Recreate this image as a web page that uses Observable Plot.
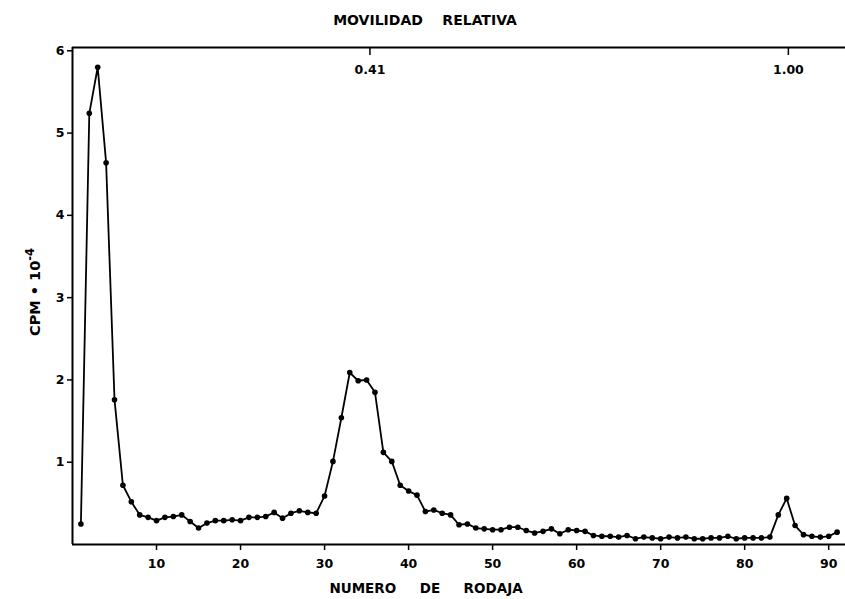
<!DOCTYPE html>
<html>
<head>
<meta charset="utf-8">
<script src="https://cdn.jsdelivr.net/npm/d3@7"></script>
<script src="https://cdn.jsdelivr.net/npm/@observablehq/plot@0.6"></script>
<style>
  html, body { margin: 0; padding: 0; background: #fff; }
  #chart svg { display: block; }
</style>
</head>
<body>
<div id="chart"></div>
<script>
// Slice number (NUMERO DE RODAJA)
const slices = [1,2,3,4,5,6,7,8,9,10,11,12,13,14,15,16,17,18,19,20,
  21,22,23,24,25,26,27,28,29,30,31,32,33,34,35,36,37,38,39,40,
  41,42,43,44,45,46,47,48,49,50,51,52,53,54,55,56,57,58,59,60,
  61,62,63,64,65,66,67,68,69,70,71,72,73,74,75,76,77,78,79,80,
  81,82,83,84,85,86,87,88,89,90,91];
// CPM · 10^-4
const cpm = [0.25,5.24,5.80,4.64,1.76,0.72,0.52,0.36,0.33,0.29,
  0.33,0.34,0.36,0.28,0.20,0.26,0.29,0.29,0.30,0.29,
  0.33,0.33,0.34,0.39,0.32,0.38,0.41,0.39,0.38,0.59,
  1.01,1.54,2.09,1.99,2.00,1.85,1.12,1.01,0.72,0.65,
  0.60,0.40,0.42,0.38,0.36,0.24,0.25,0.20,0.19,0.18,
  0.18,0.21,0.21,0.17,0.14,0.16,0.19,0.13,0.18,0.17,
  0.16,0.11,0.10,0.10,0.09,0.11,0.07,0.09,0.08,0.07,
  0.09,0.08,0.09,0.07,0.07,0.08,0.08,0.10,0.07,0.08,
  0.08,0.08,0.09,0.36,0.56,0.23,0.12,0.10,0.09,0.10,0.15];
// Bottom axis ticks
const xTicks = [10,20,30,40,50,60,70,80,90];
// Left axis ticks
const yTicks = [1,2,3,4,5,6];
// Top axis: relative mobility labels and the slice where each sits
const mobilityLabels = ["0.41","1.00"];
const mobilitySlices = [35.4,85.2];

const titleText = "MOVILIDAD\u00a0\u00a0\u00a0\u00a0RELATIVA";
const xLabelText = "NUMERO\u00a0\u00a0\u00a0\u00a0\u00a0DE\u00a0\u00a0\u00a0\u00a0\u00a0RODAJA";
const yLabelBase = "CPM \u2022 10";
const yLabelExp = "-4";

const data = slices.map((s, i) => ({slice: s, cpm: cpm[i]}));
const topTicks = mobilitySlices.map((s, i) => ({slice: s, label: mobilityLabels[i]}));
const xMax = 92, yMax = 6.04;

const chart = Plot.plot({
  width: 845,
  height: 599,
  marginLeft: 72,
  marginRight: 0,
  marginTop: 47,
  marginBottom: 55,
  style: {fontFamily: "DejaVu Sans", fontWeight: "bold", fontSize: "12px", color: "#000", background: "#fff"},
  x: {domain: [0, xMax]},
  y: {domain: [0, yMax]},
  marks: [
    Plot.axisX({ticks: xTicks, tickSize: 6, tickPadding: 9, tickFormat: "d", label: null, fontSize: 12.5, strokeWidth: 1.5}),
    Plot.axisY({ticks: yTicks, tickSize: 5, tickPadding: 3, tickFormat: "d", label: null, fontSize: 12.5, strokeWidth: 1.5}),
    Plot.ruleY([0], {strokeWidth: 1.8}),
    Plot.ruleY([yMax], {strokeWidth: 1.8}),
    Plot.ruleX([0], {strokeWidth: 2}),
    Plot.ruleX(topTicks, {x: "slice", y1: yMax, y2: yMax, insetBottom: -8, strokeWidth: 1.5}),
    Plot.text(topTicks, {x: "slice", frameAnchor: "top", text: "label", dy: 18, fontSize: 12.5}),
    Plot.line(data, {x: "slice", y: "cpm", stroke: "#000", strokeWidth: 1.8}),
    Plot.dot(data, {x: "slice", y: "cpm", r: 2.8, fill: "#000", stroke: "none"}),
    Plot.text([titleText], {frameAnchor: "top", text: d => d, dx: -34, dy: -27, fontSize: 14, lineAnchor: "middle"}),
    Plot.text([xLabelText], {frameAnchor: "bottom", text: d => d, dx: -33, dy: 48, fontSize: 13.5}),
    Plot.text([yLabelBase], {frameAnchor: "left", textAnchor: "middle", text: d => d, rotate: -90, dx: -37, dy: -4, fontSize: 14.5})
  ]
});
// add superscript exponent to the y-axis label
d3.select(chart).selectAll("text").filter(function() { return this.textContent === yLabelBase; })
  .each(function() {
    const t = d3.select(this);
    t.text(yLabelBase);
    t.append("tspan").attr("dy", "-0.5em").attr("font-size", "11.5").text(yLabelExp);
  });
document.getElementById("chart").appendChild(chart);
</script>
</body>
</html>
